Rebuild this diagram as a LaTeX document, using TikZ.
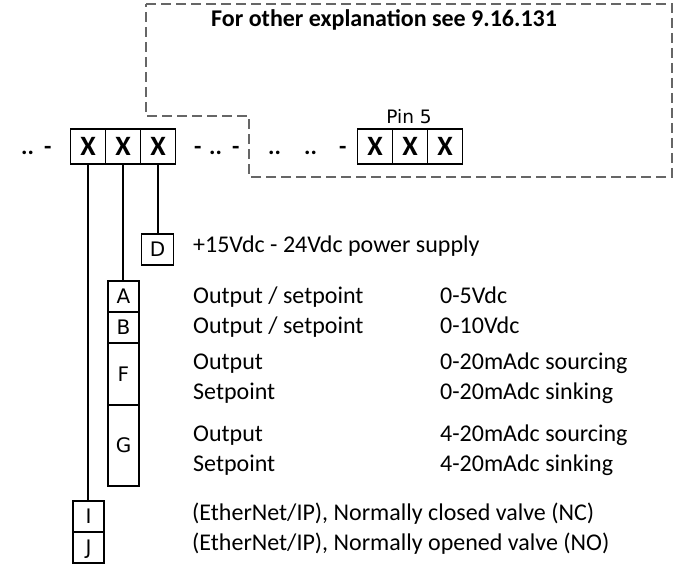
\documentclass[tikz,border=0pt]{standalone}
\usepackage{fontspec}
\setmainfont{Carlito}
\newfontfamily\dejavu{DejaVu Sans}
\begin{document}
\begin{tikzpicture}[x=1pt,y=-1pt,
  cell/.style={draw,line width=1.6pt,minimum width=35pt,minimum height=35pt,inner sep=0pt,
    text height=18pt,text depth=0pt,font=\fontsize{28}{32}\selectfont\bfseries},
  tag/.style={draw,line width=1.6pt,inner sep=0pt,minimum width=31pt,
    text height=14.5pt,text depth=0pt,font=\dejavu\fontsize{20}{22}\selectfont},
  txt/.style={anchor=base west,inner sep=0pt,font=\fontsize{24}{28}\selectfont},
  boldtxt/.style={anchor=base west,inner sep=0pt,font=\fontsize{24}{28}\selectfont\bfseries},
  wire/.style={line width=1.6pt},
  frame/.style={draw=black!60,line width=1.5pt,dash pattern=on 10pt off 5pt}
]
\useasboundingbox (0,0) rectangle (675,564);

% dashed frame
\coordinate (f1) at (146,4);
\coordinate (f2) at (672,4);
\coordinate (f3) at (672,177);
\coordinate (f4) at (249,177);
\coordinate (f5) at (249,116);
\coordinate (f6) at (146,116);
\draw[frame] (f1) -- (f2) -- (f3) -- (f4) -- (f5) -- (f6) -- cycle;

\node[boldtxt] (title) at (211,27) {For other explanation see 9.16.131};

% left connector
\node[cell] (l1) at (88,146.5) {X};
\node[cell] (l2) at (123,146.5) {X};
\node[cell] (l3) at (158,146.5) {X};

% right connector
\node[cell] (r1) at (375,146.5) {X};
\node[cell] (r2) at (410,146.5) {X};
\node[cell] (r3) at (445,146.5) {X};
\node[anchor=base,inner sep=0pt,font=\dejavu\fontsize{18.5}{20}\selectfont] (pin) at (409,124) {Pin 5};

% dots and dashes
\node[boldtxt] (d1) at (21,155) {..};
\node[boldtxt] (d2) at (44,155) {-};
\node[boldtxt] (d3) at (194,155) {-};
\node[boldtxt] (d4) at (209,155) {..};
\node[boldtxt] (d5) at (232,155) {-};
\node[boldtxt] (d6) at (268,155) {..};
\node[boldtxt] (d7) at (304,155) {..};
\node[boldtxt] (d8) at (339,155) {-};

% option boxes
\node[tag,minimum width=32pt,minimum height=31pt] (D) at (157.5,249.5) {D};
\node[tag,minimum height=31pt] (A) at (123.5,296.5) {A};
\node[tag,minimum height=31pt] (B) at (123.5,327.5) {B};
\node[tag,minimum height=62pt] (F) at (123.5,374) {F};
\node[tag,minimum height=81pt] (G) at (123.5,445.5) {G};
\node[tag,minimum height=31pt] (I) at (88.5,516.5) {I};
\node[tag,minimum height=31pt] (J) at (88.5,547.5) {J};

% wires
\draw[wire] (l1.south) -- (l1.south |- I.north);
\draw[wire] (l2.south) -- (l2.south |- A.north);
\draw[wire] (l3.south) -- (l3.south |- D.north);

% texts
\node[txt] (t0) at (193,253) {+15Vdc - 24Vdc power supply};
\node[txt] (t1) at (193,304) {Output / setpoint};
\node[txt] (t2) at (193,334) {Output / setpoint};
\node[txt] (t3) at (193,369) {Output};
\node[txt] (t4) at (193,399) {Setpoint};
\node[txt] (t5) at (193,441) {Output};
\node[txt] (t6) at (193,471) {Setpoint};
\node[txt] (t7) at (192,520) {(EtherNet/IP), Normally closed valve (NC)};
\node[txt] (t8) at (192,550) {(EtherNet/IP), Normally opened valve (NO)};

\node[txt] (v1) at (440,304) {0-5Vdc};
\node[txt] (v2) at (440,334) {0-10Vdc};
\node[txt] (v3) at (440,369) {0-20mAdc sourcing};
\node[txt] (v4) at (440,399) {0-20mAdc sinking};
\node[txt] (v5) at (440,441) {4-20mAdc sourcing};
\node[txt] (v6) at (440,471) {4-20mAdc sinking};
\end{tikzpicture}
\end{document}
